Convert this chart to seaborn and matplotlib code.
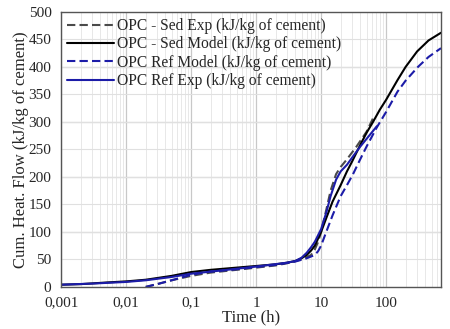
import numpy as np
import pandas as pd
import seaborn as sns
import matplotlib
matplotlib.use('Agg')
import matplotlib.pyplot as plt
from matplotlib.ticker import FixedLocator, LogLocator, NullFormatter, MultipleLocator

# Sed Exp (gray dashed)
sed_exp_t = [0.02, 0.03, 0.05, 0.1, 0.2, 0.5, 1, 2, 3, 5, 6, 7, 8, 9, 10, 12, 14, 17, 20, 25, 35, 50, 65]
sed_exp_q = [0, 5, 12, 20, 26, 31, 35, 39, 43, 50, 54, 58, 68, 82, 100, 140, 175, 205, 218, 232, 255, 282, 310]
# Sed Model (black solid)
sed_mod_t = [0.001, 0.002, 0.005, 0.01, 0.02, 0.05, 0.1, 0.2, 0.5, 1, 2, 3, 4, 5, 6, 7, 8, 10, 12, 15, 20,
             25, 30, 40, 50, 63, 80, 100, 150, 200, 300, 450, 700]
sed_mod_q = [4, 5, 8, 10, 13, 20, 27, 31, 35, 38, 41, 44, 47, 52, 58, 66, 75, 100, 125, 155, 185,
             210, 228, 258, 280, 300, 322, 340, 376, 400, 428, 448, 462]
# Ref Model (blue dashed)
ref_mod_t = [0.02, 0.03, 0.05, 0.1, 0.2, 0.5, 1, 2, 4, 6, 8, 9, 10, 12, 15, 20, 25, 31, 40, 50, 72, 100,
             150, 200, 310, 450, 700]
ref_mod_q = [0, 5, 12, 22, 28, 32, 36, 40, 46, 52, 58, 65, 75, 100, 130, 165, 185, 205, 232, 255, 290, 318,
             355, 375, 400, 418, 434]
# Ref Exp (blue solid)
ref_exp_t = [0.001, 0.003, 0.01, 0.02, 0.05, 0.1, 0.3, 1, 3, 4, 5, 6, 7, 8, 10, 12, 14, 17, 20, 25, 30, 40, 55, 72]
ref_exp_q = [4, 6, 9, 12, 18, 24, 30, 37, 44, 47, 53, 62, 72, 82, 105, 135, 165, 195, 210, 222, 235, 255, 275, 292]

series = [
    ("OPC - Sed Exp (kJ/kg of cement)", sed_exp_t, sed_exp_q),
    ("OPC - Sed Model (kJ/kg of cement)", sed_mod_t, sed_mod_q),
    ("OPC Ref Model (kJ/kg of cement)", ref_mod_t, ref_mod_q),
    ("OPC Ref Exp (kJ/kg of cement)", ref_exp_t, ref_exp_q),
]
df = pd.concat([pd.DataFrame({"t": t, "q": q, "s": name}) for name, t, q in series])

sns.set_style("white")
plt.rcParams['font.family'] = ['Liberation Serif', 'DejaVu Serif']

fig = plt.figure(figsize=(4.5, 3.29), dpi=100)
ax = fig.add_axes([0.136, 0.128, 0.844, 0.836])

palette = {series[0][0]: "#4a4a4a", series[1][0]: "black",
           series[2][0]: "#1c1ca8", series[3][0]: "#1c1ca8"}
dashes = {series[0][0]: (4, 2), series[1][0]: "",
          series[2][0]: (4, 2), series[3][0]: ""}
sns.lineplot(data=df, x="t", y="q", hue="s", style="s", palette=palette,
             dashes=dashes, sort=False, estimator=None, linewidth=1.5, ax=ax)

ax.set_xscale('log')
ax.set_xlim(0.001, 700)
ax.set_ylim(0, 500)
ax.xaxis.set_major_locator(FixedLocator([0.001, 0.01, 0.1, 1, 10, 100]))
ax.set_xticklabels(["0,001", "0,01", "0,1", "1", "10", "100"])
ax.xaxis.set_minor_locator(LogLocator(base=10, subs=np.arange(2, 10)))
ax.xaxis.set_minor_formatter(NullFormatter())
ax.yaxis.set_major_locator(MultipleLocator(50))
ax.yaxis.set_minor_locator(MultipleLocator(10))

ax.grid(True, which='major', axis='x', color='#c8c8c8', linewidth=0.9)
ax.grid(True, which='minor', axis='x', color='#e4e4e4', linewidth=0.6)
ax.grid(True, which='major', axis='y', color='#e0e0e0', linewidth=0.8)
for v in [100, 200, 300, 400]:
    ax.axhline(v, color='#c8c8c8', linewidth=0.9, zorder=0.5)

ax.tick_params(axis='both', which='major', labelsize=11, length=5, direction='out', color='#444444', pad=2)
ax.tick_params(axis='both', which='minor', length=2.5, direction='inout', color='#444444')
for sp in ax.spines.values():
    sp.set_color('#555555')
    sp.set_linewidth(1.0)

ax.set_xlabel("Time (h)", fontsize=12, labelpad=0)
ax.set_ylabel("Cum. Heat. Flow (kJ/kg of cement)", fontsize=12, labelpad=0)

leg = ax.legend(loc='upper left', frameon=False, fontsize=11.2, handlelength=3.0,
                handletextpad=0.2, labelspacing=0.15, borderaxespad=0.1, borderpad=0.3)

fig.savefig("out.png", dpi=100)
